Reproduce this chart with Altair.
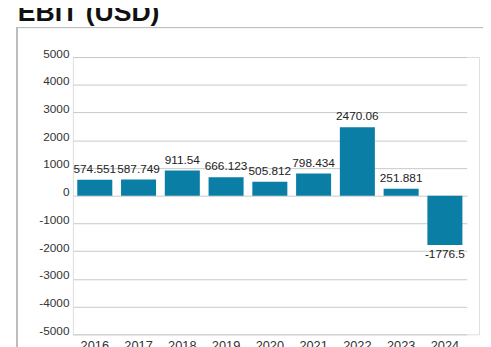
import altair as alt
import pandas as pd

years = ["2016", "2017", "2018", "2019", "2020", "2021", "2022", "2023", "2024"]
values = [574.551, 587.749, 911.54, 666.123, 505.812, 798.434, 2470.06, 251.881, -1776.5]
labels = ["574.551", "587.749", "911.54", "666.123", "505.812", "798.434", "2470.06", "251.881", "-1776.5"]
y_ticks = [-5000, -4000, -3000, -2000, -1000, 0, 1000, 2000, 3000, 4000, 5000]
title_text = "EBIT (USD)"

df = pd.DataFrame({"year": years, "value": values, "label": labels})

FONT = "Liberation Sans"
BAR = "#0a7ea4"

x_enc = alt.X(
    "year:N",
    sort=years,
    scale=alt.Scale(range=[0, 400.5], paddingInner=0.2, paddingOuter=0.1),
    axis=alt.Axis(title=None, ticks=False, domain=False, grid=False,
                  labelFontSize=13, labelPadding=5, labelColor="#333333",
                  labelFont=FONT, labelAngle=0),
)
y_enc = alt.Y(
    "value:Q",
    scale=alt.Scale(domain=[-5000, 5000], nice=False, zero=True),
    axis=alt.Axis(title=None, ticks=False, domain=False, grid=True,
                  gridColor="#c8c8c8", values=y_ticks, tickCount=11,
                  labelFontSize=12,
                  labelColor="#333333", labelFont=FONT, labelPadding=4,
                  labelBaseline="alphabetic", labelOverlap=False,
                  labelExpr="'' + datum.value"),
)

base = alt.Chart(df)

bars = base.mark_bar(color=BAR).encode(x=x_enc, y=y_enc)

pos_labels = base.transform_filter("datum.value >= 0").mark_text(
    baseline="alphabetic", dy=-7, fontSize=12, font=FONT, color="#222222"
).encode(x=alt.X("year:N", sort=years), y="value:Q", text="label:N")

neg_labels = base.transform_filter("datum.value < 0").mark_text(
    baseline="top", dy=4, fontSize=12, font=FONT, color="#222222"
).encode(x=alt.X("year:N", sort=years), y="value:Q", text="label:N")

frame_top = base.mark_rule(color="#bdbdbd", strokeWidth=1).encode(
    x=alt.value(-57), x2=alt.value(430), y=alt.value(-30)
)
frame_left = base.mark_rule(color="#bdbdbd", strokeWidth=1).encode(
    x=alt.value(-57), y=alt.value(-30), y2=alt.value(320)
)

title = alt.Chart(pd.DataFrame({"t": [title_text]})).mark_text(
    align="left", baseline="alphabetic", fontSize=27, fontWeight="bold",
    font=FONT, color="#111111"
).encode(x=alt.value(-56), y=alt.value(-37), text="t:N")

chart = alt.layer(bars, pos_labels, neg_labels, frame_top, frame_left, title).properties(
    width=413, height=282,
    autosize=alt.AutoSizeParams(type="none"),
    padding={"left": 66, "top": 47, "right": 4, "bottom": 10},
).configure_view(strokeWidth=0, fill="#fbfbfb").configure(background="white")

chart.save("out.html", embed_options={"renderer": "svg", "actions": False})
